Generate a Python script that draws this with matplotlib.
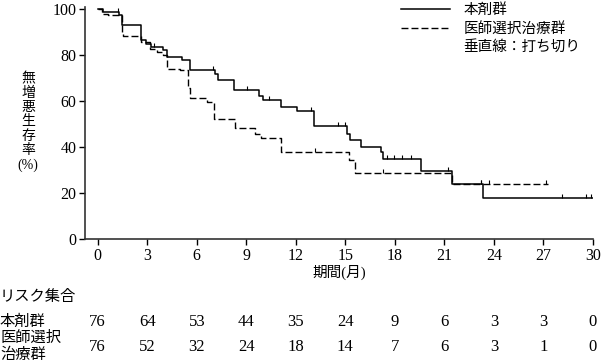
import numpy as np
import matplotlib.pyplot as plt
import matplotlib.transforms as mtransforms
from matplotlib.lines import Line2D

plt.rcParams["font.family"] = ["Liberation Serif", "Noto Sans CJK JP"]

# ── data ─────────────────────────────────────────────────────────────────────
drug_t = [0, 0.35, 1.3, 1.45, 2.65, 2.95, 3.25, 3.95, 4.2, 5.1, 5.6, 7.1, 7.3,
          8.25, 9.8, 10.0, 11.1, 12.05, 13.1, 15.1, 15.3, 15.95, 17.15, 17.3,
          19.6, 21.45, 23.35, 30.0]
drug_s = [100, 98.7, 97.4, 93.0, 86.5, 85.0, 83.6, 82.2, 79.3, 77.8, 73.8, 72.0,
          69.4, 65.1, 62.3, 60.4, 57.5, 55.8, 49.3, 46.0, 43.0, 40.1, 38.0, 34.8,
          29.8, 24.2, 18.1, 18.1]
drug_cens_t = [1.2, 3.4, 6.96, 9.02, 10.39, 12.9, 14.56, 14.97, 17.55, 17.95,
               18.46, 18.97, 21.2, 23.24, 28.1, 29.56, 29.9]

tpc_t = [0, 0.25, 0.6, 1.5, 1.55, 2.6, 3.15, 3.6, 3.95, 4.2, 5.0, 5.45, 5.6,
         6.6, 7.05, 8.3, 9.5, 9.9, 11.1, 15.2, 15.6, 21.45, 27.25]
tpc_s = [100, 98.0, 97.4, 89.4, 88.3, 85.8, 82.9, 81.4, 80.0, 74.2, 73.5, 65.6,
         61.6, 59.5, 52.4, 48.4, 46.0, 44.0, 38.1, 34.3, 28.9, 24.2, 24.2]
tpc_cens_t = [13.15, 17.3, 23.24, 23.7, 27.18]

risk_times = [0, 3, 6, 9, 12, 15, 18, 21, 24, 27, 30]
risk_drug = [76, 64, 53, 44, 35, 24, 9, 6, 3, 3, 0]
risk_tpc = [76, 52, 32, 24, 18, 14, 7, 6, 3, 1, 0]

label_drug = "本剤群"
label_tpc = "医師選択治療群"


def _surv_at(ts, ss, t):
    idx = np.searchsorted(ts, t, side="right") - 1
    return ss[idx]


fig = plt.figure(figsize=(6.02, 3.64), dpi=100)
ax = fig.add_axes([85 / 602, 1 - 239.3 / 364, 508.3 / 602, 232.3 / 364])

ax.step(drug_t, drug_s, where="post", color="black", lw=1.1)
ax.step(tpc_t, tpc_s, where="post", color="black", lw=1.0,
        linestyle=(0, (5, 2.2)))

# censor ticks (short vertical strokes above the curve)
tick_marker = [(0, 0), (0, 1)]
ax.plot(drug_cens_t, [_surv_at(drug_t, drug_s, t) for t in drug_cens_t],
        linestyle="none", marker=tick_marker, markersize=6,
        markeredgecolor="black", markeredgewidth=0.8)
ax.plot(tpc_cens_t, [_surv_at(tpc_t, tpc_s, t) for t in tpc_cens_t],
        linestyle="none", marker=tick_marker, markersize=6,
        markeredgecolor="black", markeredgewidth=0.8)

ax.set_xlim(-0.77, 30.02)
ax.set_ylim(0, 101)
ax.set_xticks(risk_times)
ax.set_yticks([0, 20, 40, 60, 80, 100])
ax.tick_params(labelsize=11.5, length=4, width=1, pad=2, colors="black")
for side in ("top", "right"):
    ax.spines[side].set_visible(False)
for side in ("left", "bottom"):
    ax.spines[side].set_linewidth(1.2)
    ax.spines[side].set_color("#333333")

ax.set_xlabel("期間(月)", fontsize=10.5, labelpad=1)
fig.text(28 / 602, 1 - 122 / 364, "無\n増\n悪\n生\n存\n率\n(%)",
         ha="center", va="center", fontsize=10, linespacing=1.12)

# legend
handles = [Line2D([], [], color="black", lw=1.1),
           Line2D([], [], color="black", lw=1.0, linestyle=(0, (5, 2.2))),
           Line2D([], [], color="none")]
ax.legend(handles, [label_drug, label_tpc, "垂直線：打ち切り"],
          loc="upper left", bbox_to_anchor=(0.61, 1.04), frameon=False,
          fontsize=10.5, handlelength=3.4, handletextpad=0.9,
          labelspacing=0.3, borderaxespad=0)

# risk table
trans = mtransforms.blended_transform_factory(ax.transData, fig.transFigure)
fig.text(0.0, 1 - 297 / 364, "リスク集合", fontsize=11, va="center", ha="left")
fig.text(0.0, 1 - 322 / 364, label_drug, fontsize=11, va="center", ha="left")
fig.text(0.0, 1 - 338 / 364, "医師選択", fontsize=11, va="center", ha="left")
fig.text(0.0, 1 - 355 / 364, "治療群", fontsize=11, va="center", ha="left")
for t, a, b in zip(risk_times, risk_drug, risk_tpc):
    ax.text(t, 1 - 322 / 364, str(a), transform=trans, ha="center",
            va="center", fontsize=12, clip_on=False)
    ax.text(t, 1 - 347 / 364, str(b), transform=trans, ha="center",
            va="center", fontsize=12, clip_on=False)

fig.savefig("out.png", dpi=100)
